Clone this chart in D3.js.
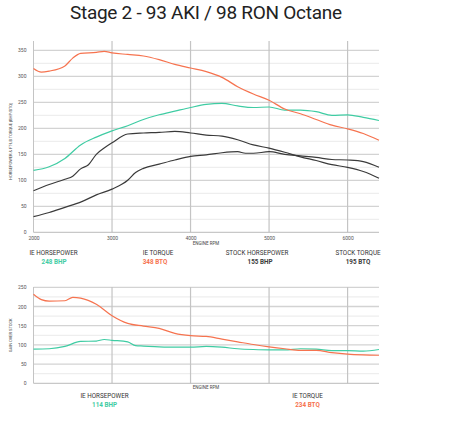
<!DOCTYPE html><html><head><meta charset="utf-8"><script src="https://cdn.jsdelivr.net/npm/d3@7"></script>
<style>body{margin:0;background:#fff}text{font-family:Roboto,"DejaVu Sans Condensed",sans-serif}</style></head><body>
<svg id="c" width="450" height="428"></svg>
<script>
const ieTqRpm=[2000,2100,2200,2400,2500,2600,2800,2900,3000,3200,3400,3600,3800,4000,4200,4400,4600,4800,5000,5200,5400,5600,5800,6000,6200,6400];
const ieTq=[315,308,310,320,335,344,346,348,345,342,339,332,323,316,309,298,280,266,254,237,228,217,206,199,190,177];
const ieHpRpm=[2000,2200,2400,2600,2800,3000,3200,3400,3600,3800,4000,4200,4400,4600,4800,5000,5200,5400,5600,5800,6000,6200,6400];
const ieHp=[119,126,142,168,183,195,205,217,226,233,240,246,248,243,240,241,235,235,232,225,226,221,215];
const stTqRpm=[2000,2200,2400,2500,2600,2700,2800,2900,3000,3200,3400,3600,3800,4000,4200,4400,4600,4800,5000,5200,5400,5600,5800,6000,6200,6400];
const stTq=[80,92,102,108,122,130,150,162,172,189,191,192,194,191,187,185,178,168,162,154,145,138,130,125,117,104];
const stHpRpm=[2000,2200,2400,2600,2800,3000,3200,3300,3400,3600,3800,4000,4200,4400,4600,4700,4800,5000,5200,5400,5600,5800,6000,6200,6400];
const stHp=[30,38,48,58,72,83,100,115,123,131,139,146,149,153,155,152,152,155,150,147,144,140,139,136,125];
const gTqRpm=[2000,2100,2200,2400,2500,2600,2800,3000,3200,3400,3600,3800,4000,4200,4400,4600,4800,5000,5200,5400,5600,5800,6000,6200,6400];
const gTq=[232,218,214,215,224,222,206,176,156,149,143,130,124,122,115,108,101,95,90,86,86,80,76,74,73];
const gHpRpm=[2000,2200,2400,2600,2800,2900,3000,3200,3300,3400,3600,3800,4000,4200,4400,4600,4800,5000,5200,5400,5600,5800,6000,6200,6400];
const gHp=[89,90,96,109,110,114,112,108,98,97,95,94,94,96,94,90,88,87,87,90,89,85,85,84,88];
const xTicks=[2000,3000,4000,5000,6000];
const teal="#3fcca3",orange="#f6734f",dark="#3a3a3a";
const svg=d3.select("#c");
svg.append("text").attr("x",206).attr("y",19).attr("text-anchor","middle").attr("font-size",19).attr("fill","#222").attr("textLength",272).text("Stage 2 - 93 AKI / 98 RON Octane");
const x=d3.scaleLinear().domain([2000,6400]).range([33.5,379]);
function panel(y0,y1,max,ylabel,series,top,showX,rpmDy){
  const y=d3.scaleLinear().domain([0,max]).range([y0,y1]);
  const g=svg.append("g");
  for(let v=25;y(v)>=top;v+=25){
    g.append("line").attr("x1",33.5).attr("x2",379).attr("y1",y(v)).attr("y2",y(v)).attr("stroke",v%50?"#eee":"#d3d3d3").attr("stroke-width",1.3);}
  xTicks.forEach(t=>g.append("line").attr("x1",x(t)).attr("x2",x(t)).attr("y1",top).attr("y2",y0).attr("stroke","#c4c4c4").attr("stroke-width",t==2000?1:1.2));
  g.append("line").attr("x1",33.5).attr("x2",379).attr("y1",y0).attr("y2",y0).attr("stroke","#bbb");
  g.append("g").attr("transform",`translate(33.5,0)`).call(d3.axisLeft(y).tickValues(d3.range(0,max+1,50)).tickSize(0).tickPadding(7)).call(a=>{a.select(".domain").remove();a.selectAll("text").attr("font-size",5).attr("fill","#555")});
  if(showX) g.append("g").attr("transform",`translate(0,${y0})`).call(d3.axisBottom(x).tickValues(xTicks).tickFormat(d3.format("d")).tickSize(0).tickPadding(4)).call(a=>{a.select(".domain").remove();a.selectAll("text").attr("font-size",5).attr("fill","#555")});
  g.append("text").attr("x",206).attr("y",y0+rpmDy).attr("text-anchor","middle").attr("font-size",4.5).attr("fill","#444").text("ENGINE RPM");
  g.append("text").attr("transform",`translate(12,${(y0+y1)/2}) rotate(-90)`).attr("text-anchor","middle").attr("font-size",4).attr("fill","#444").text(ylabel);
  const ln=d3.line().x(d=>x(d[0])).y(d=>y(d[1])).curve(d3.curveMonotoneX);
  series.forEach(s=>g.append("path").attr("d",ln(d3.zip(s.r,s.v))).attr("fill","none").attr("stroke",s.c).attr("stroke-width",1.2));
}
panel(232.3,50.3,350,"HORSEPOWER & FT-LB TORQUE [BHP/BTQ]",[{r:stHpRpm,v:stHp,c:dark},{r:stTqRpm,v:stTq,c:dark},{r:ieHpRpm,v:ieHp,c:teal},{r:ieTqRpm,v:ieTq,c:orange}],41,true,13);
panel(383.3,287.3,250,"GAIN OVER STOCK",[{r:gHpRpm,v:gHp,c:teal},{r:gTqRpm,v:gTq,c:orange}],287,false,6);
const legL=["IE HORSEPOWER","IE TORQUE","STOCK HORSEPOWER","STOCK TORQUE"],legV=["248 BHP","348 BTQ","155 BHP","195 BTQ"];
const legX=[53.5,158,257,358],legC=[teal,orange,dark,dark],legVX=[54,155,260,358];
legL.forEach((l,i)=>{svg.append("text").attr("x",legX[i]).attr("y",255).attr("text-anchor","middle").attr("font-size",6.3).attr("fill","#333").text(l);
 svg.append("text").attr("x",legVX[i]).attr("y",263.5).attr("text-anchor","middle").attr("font-size",6.3).attr("font-weight","bold").attr("fill",legC[i]).text(legV[i]);});
const leg2L=["IE HORSEPOWER","IE TORQUE"],leg2V=["114 BHP","234 BTQ"],leg2X=[104.5,307.5],leg2C=[teal,orange];
leg2L.forEach((l,i)=>{svg.append("text").attr("x",leg2X[i]).attr("y",398).attr("text-anchor","middle").attr("font-size",6.3).attr("fill","#333").text(l);
 svg.append("text").attr("x",leg2X[i]).attr("y",406.5).attr("text-anchor","middle").attr("font-size",6.3).attr("font-weight","bold").attr("fill",leg2C[i]).text(leg2V[i]);});
</script></body></html>
